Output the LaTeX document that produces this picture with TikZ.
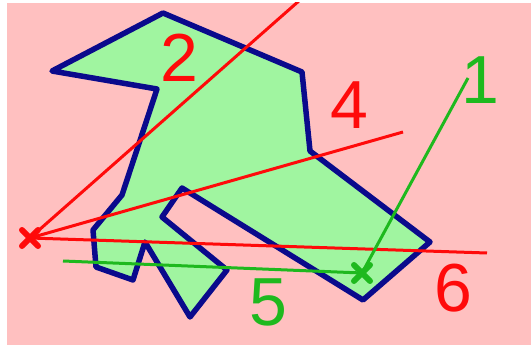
\documentclass[tikz,border=0pt]{standalone}
\usepackage{fontspec}
\setmainfont{Liberation Sans}
\usetikzlibrary{calc}
\definecolor{bgpink}{RGB}{255,192,192}
\definecolor{fillgreen}{RGB}{160,245,160}
\definecolor{outlineblue}{RGB}{10,10,140}
\definecolor{rayred}{RGB}{255,10,10}
\definecolor{raygreen}{RGB}{30,185,30}
\begin{document}
\begin{tikzpicture}[x=1pt,y=-1pt,
  outline/.style={draw=outlineblue,line width=5.5pt,line join=round,fill=fillgreen},
  redray/.style={draw=rayred,line width=3pt},
  greenray/.style={draw=raygreen,line width=3pt},
  crossmark/.style={line width=6pt,line cap=round},
  numlabel/.style={inner sep=0pt,font=\fontsize{68}{68}\selectfont}]
\useasboundingbox (0,0) rectangle (531,345);
\fill[white] (0,0) rectangle (531,345);
\fill[bgpink] (7,3) rectangle (531,345);
\begin{scope}
\clip (7,3) rectangle (531,345);
% polygon vertices
\coordinate (p1) at (163,13);
\coordinate (p2) at (302,72);
\coordinate (p3) at (310,151);
\coordinate (p4) at (430,242);
\coordinate (p5) at (363,300);
\coordinate (p6) at (182,188);
\coordinate (p7) at (162,217);
\coordinate (p8) at (227,270);
\coordinate (p9) at (190,317);
\coordinate (p10) at (145,242);
\coordinate (p11) at (133,280);
\coordinate (p12) at (96,267);
\coordinate (p13) at (93,230);
\coordinate (p14) at (122,195);
\coordinate (p15) at (157,89);
\coordinate (p16) at (52,71);
\path[outline] (p1) -- (p2) -- (p3) -- (p4) -- (p5) -- (p6) -- (p7) -- (p8)
  -- (p9) -- (p10) -- (p11) -- (p12) -- (p13) -- (p14) -- (p15) -- (p16) -- cycle;
% points
\coordinate (r) at (30,238);
\coordinate (g) at (362,273);
\coordinate (e2) at (300,0);
\coordinate (e4) at (403,132);
\coordinate (e6) at (487,253);
\coordinate (e1) at (468,78);
\coordinate (e5) at (63,261);
% rays
\draw[redray] (r) -- (e2);
\draw[redray] (r) -- (e4);
\draw[redray] (r) -- (e6);
\draw[greenray] (e1) -- (g);
\draw[greenray] (e5) -- (g);
% markers
\draw[crossmark,rayred] ($(r)+(-8,-8)$) -- ($(r)+(8,8)$) ($(r)+(-8,8)$) -- ($(r)+(8,-8)$);
\draw[crossmark,raygreen] ($(g)+(-8,-8)$) -- ($(g)+(8,8)$) ($(g)+(-8,8)$) -- ($(g)+(8,-8)$);
% labels
\node[numlabel,text=rayred] (l2) at (179,58) {2};
\node[numlabel,text=rayred] (l4) at (349,105) {4};
\node[numlabel,text=raygreen] (l1) at (480,80) {1};
\node[numlabel,text=raygreen] (l5) at (268,302) {5};
\node[numlabel,text=rayred] (l6) at (453,288) {6};
\end{scope}
\end{tikzpicture}
\end{document}
